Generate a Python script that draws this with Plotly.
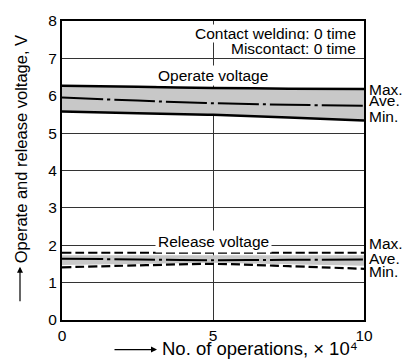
import plotly.graph_objects as go

# ---- data ----
x_ops = [0, 2.5, 5, 7.5, 10]
op_max = [6.27, 6.24, 6.21, 6.19, 6.18]
op_ave = [5.95, 5.87, 5.80, 5.76, 5.73]
op_min = [5.58, 5.53, 5.49, 5.42, 5.34]

rel_max = [1.80, 1.80, 1.80, 1.80, 1.80]
rel_ave = [1.64, 1.62, 1.60, 1.61, 1.62]
rel_min = [1.41, 1.46, 1.50, 1.44, 1.37]
rel_band_hi = [1.73, 1.73, 1.73, 1.73, 1.73]
rel_band_lo = [1.47, 1.50, 1.53, 1.49, 1.45]

x_ticks = [0, 5, 10]
y_ticks = [0, 1, 2, 3, 4, 5, 6, 7, 8]

FONT = "Liberation Sans, Arial, sans-serif"
GRAY = "#c8c8c8"
DASHDOT = "41px,4px,3px,4px"
TXT = 15.5

fig = go.Figure()

# operate band
fig.add_trace(go.Scatter(x=x_ops, y=op_min, mode="lines", line=dict(width=0), showlegend=False, hoverinfo="skip"))
fig.add_trace(go.Scatter(x=x_ops, y=op_max, mode="lines", line=dict(width=0), fill="tonexty",
                         fillcolor=GRAY, showlegend=False, hoverinfo="skip"))
# release band
fig.add_trace(go.Scatter(x=x_ops, y=rel_band_lo, mode="lines", line=dict(width=0), showlegend=False, hoverinfo="skip"))
fig.add_trace(go.Scatter(x=x_ops, y=rel_band_hi, mode="lines", line=dict(width=0), fill="tonexty",
                         fillcolor=GRAY, showlegend=False, hoverinfo="skip"))

# operate lines
fig.add_trace(go.Scatter(x=x_ops, y=op_max, mode="lines", line=dict(color="black", width=2.5, shape="spline"), showlegend=False))
fig.add_trace(go.Scatter(x=x_ops, y=op_min, mode="lines", line=dict(color="black", width=2.5, shape="spline"), showlegend=False))
fig.add_trace(go.Scatter(x=x_ops, y=op_ave, mode="lines", line=dict(color="black", width=2, dash=DASHDOT, shape="spline"), showlegend=False))

# release lines
fig.add_trace(go.Scatter(x=x_ops, y=rel_max, mode="lines", line=dict(color="black", width=2.2, dash="9px,4px", shape="spline"), showlegend=False))
fig.add_trace(go.Scatter(x=x_ops, y=rel_min, mode="lines", line=dict(color="black", width=2.2, dash="9px,4px", shape="spline"), showlegend=False))
fig.add_trace(go.Scatter(x=x_ops, y=rel_ave, mode="lines", line=dict(color="black", width=2, dash=DASHDOT, shape="spline"), showlegend=False))

annots = []
# top-right notes
annots.append(dict(x=0.977, y=7.66, xref="paper", yref="y", text="Contact welding: 0 time", showarrow=False,
                   xanchor="right", yanchor="middle", bgcolor="white", borderpad=0,
                   font=dict(size=TXT, color="black", family=FONT)))
annots.append(dict(x=0.977, y=7.26, xref="paper", yref="y", text="Miscontact: 0 time", showarrow=False,
                   xanchor="right", yanchor="middle", bgcolor="white", borderpad=0,
                   font=dict(size=TXT, color="black", family=FONT)))
# series labels
annots.append(dict(x=5.0, y=6.54, xref="x", yref="y", text="Operate voltage", showarrow=False,
                   xanchor="center", yanchor="middle", bgcolor="white", borderpad=1,
                   font=dict(size=TXT, color="black", family=FONT)))
annots.append(dict(x=5.0, y=2.1, xref="x", yref="y", text="Release voltage", showarrow=False,
                   xanchor="center", yanchor="middle", bgcolor="white", borderpad=2,
                   font=dict(size=TXT, color="black", family=FONT)))
# right side labels
for txt, yv in [("Max.", 6.18), ("Ave.", 5.86), ("Min.", 5.44), ("Max.", 2.05), ("Ave.", 1.65), ("Min.", 1.30)]:
    annots.append(dict(x=1.012, y=yv, xref="paper", yref="y", text=txt, showarrow=False,
                       xanchor="left", yanchor="middle", borderpad=0,
                       font=dict(size=TXT, color="black", family=FONT)))
# axis titles
annots.append(dict(x=(21 - 62) / 302, y=(320 - 147) / 303, xref="paper", yref="paper",
                   text="Operate and release voltage, V", showarrow=False, textangle=-90,
                   xanchor="center", yanchor="middle", font=dict(size=16.5, color="black", family=FONT)))
annots.append(dict(x=(20 - 62) / 302, y=(320 - 266) / 303, xref="paper", yref="paper", text="",
                   showarrow=True, ax=0, ay=36, arrowhead=2, arrowsize=1, arrowwidth=1.2, arrowcolor="black"))
annots.append(dict(x=(160 - 62) / 302, y=(320 - 349) / 303, xref="paper", yref="paper",
                   text="No. of operations, \u00d7 10\u2074", showarrow=False,
                   xanchor="left", yanchor="middle", font=dict(size=18.5, color="black", family=FONT)))
annots.append(dict(x=(157 - 62) / 302, y=(320 - 350) / 303, xref="paper", yref="paper", text="",
                   showarrow=True, ax=-44, ay=0, arrowhead=2, arrowsize=1, arrowwidth=1.2, arrowcolor="black"))

fig.update_layout(
    width=403, height=360,
    margin=dict(l=62, r=39, t=17, b=40),
    paper_bgcolor="white", plot_bgcolor="white",
    font=dict(family=FONT, size=15.5, color="black"),
    annotations=annots,
    showlegend=False,
)
fig.update_xaxes(range=[0, 10], tickvals=x_ticks, ticktext=[str(v) for v in x_ticks],
                 showgrid=True, gridcolor="#333333", gridwidth=1, zeroline=False,
                 showline=True, linecolor="black", linewidth=2, mirror=True, ticks="",
                 tickfont=dict(size=15.5, color="black", family=FONT))
fig.update_yaxes(range=[0, 8], tickvals=y_ticks, ticktext=[str(v) for v in y_ticks],
                 showgrid=True, gridcolor="#333333", gridwidth=1, zeroline=False,
                 showline=True, linecolor="black", linewidth=2, mirror=True, ticks="",
                 tickfont=dict(size=15.5, color="black", family=FONT))

fig.write_html("out.html")
